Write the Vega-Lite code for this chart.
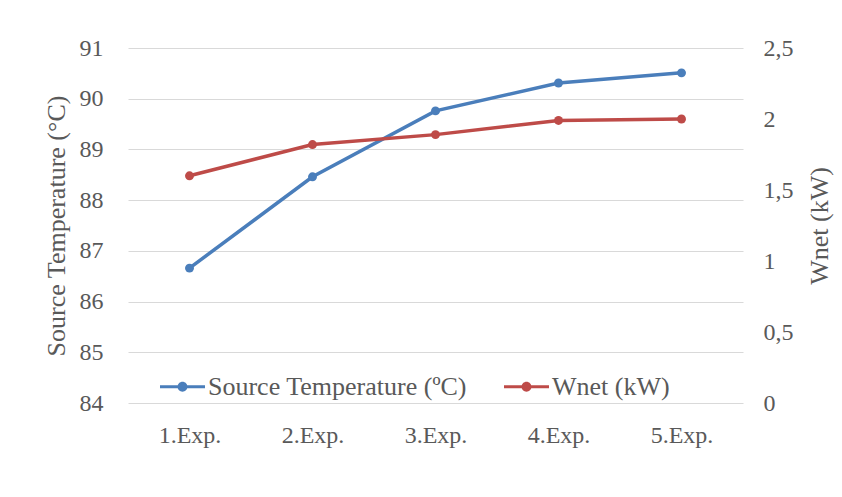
{
  "$schema": "https://vega.github.io/schema/vega-lite/v6.json",
  "autosize": {"type": "none"},
  "width": 615,
  "height": 355,
  "padding": {"left": 128, "top": 48, "right": 99, "bottom": 94},
  "background": "white",
  "config": {
    "font": "Liberation Serif, Times New Roman, DejaVu Serif, serif",
    "locale": {"number": {"decimal": ",", "thousands": ".", "grouping": [3], "currency": ["", " €"]}},
    "view": {"stroke": null},
    "axis": {
      "labelFont": "Liberation Serif, Times New Roman, DejaVu Serif, serif",
      "titleFont": "Liberation Serif, Times New Roman, DejaVu Serif, serif",
      "labelFontSize": 24,
      "titleFontSize": 26,
      "labelColor": "#595959",
      "titleColor": "#595959",
      "titleFontWeight": "normal",
      "domain": false,
      "ticks": false,
      "gridColor": "#d9d9d9",
      "gridWidth": 1
    }
  },
  "data": {
    "values": [
      {"exp": "1.Exp.", "series": "Source Temperature (ºC)", "value": 86.66},
      {"exp": "2.Exp.", "series": "Source Temperature (ºC)", "value": 88.46},
      {"exp": "3.Exp.", "series": "Source Temperature (ºC)", "value": 89.76},
      {"exp": "4.Exp.", "series": "Source Temperature (ºC)", "value": 90.31},
      {"exp": "5.Exp.", "series": "Source Temperature (ºC)", "value": 90.51},
      {"exp": "1.Exp.", "series": "Wnet (kW)", "value": 1.60},
      {"exp": "2.Exp.", "series": "Wnet (kW)", "value": 1.82},
      {"exp": "3.Exp.", "series": "Wnet (kW)", "value": 1.89},
      {"exp": "4.Exp.", "series": "Wnet (kW)", "value": 1.99},
      {"exp": "5.Exp.", "series": "Wnet (kW)", "value": 2.00}
    ]
  },
  "encoding": {
    "x": {
      "field": "exp",
      "type": "ordinal",
      "scale": {"type": "point", "padding": 0.5},
      "axis": {"title": null, "labelAngle": 0, "labelPadding": 20, "grid": false}
    },
    "color": {
      "field": "series",
      "type": "nominal",
      "scale": {"domain": ["Source Temperature (ºC)", "Wnet (kW)"], "range": ["#4A7EBB", "#BE4B48"]},
      "legend": {
        "title": null,
        "orient": "none",
        "legendX": 32,
        "legendY": 316,
        "direction": "horizontal",
        "labelFont": "Liberation Serif, Times New Roman, DejaVu Serif, serif",
        "labelFontSize": 26,
        "labelColor": "#595959",
        "symbolType": "M-1,-0.07 H1 V0.07 H-1 Z M0.22,0 A0.22,0.22 0 1,1 -0.22,0 A0.22,0.22 0 1,1 0.22,0 Z",
        "symbolSize": 2025,
        "symbolStrokeWidth": 0,
        "symbolOpacity": 1,
        "labelOffset": 3,
        "columnPadding": 37,
        "labelLimit": 400,
        "fillColor": "white"
      }
    }
  },
  "layer": [
    {
      "transform": [{"filter": "datum.series === 'Source Temperature (ºC)'"}],
      "mark": {"type": "line", "strokeWidth": 3.5, "point": {"size": 80, "filled": true, "opacity": 1}},
      "encoding": {
        "y": {
          "field": "value",
          "type": "quantitative",
          "scale": {"domain": [84, 91], "nice": false, "zero": false},
          "axis": {"title": "Source Temperature (°C)", "values": [84, 85, 86, 87, 88, 89, 90, 91], "labelPadding": 25, "titlePadding": 10, "grid": true}
        }
      }
    },
    {
      "transform": [{"filter": "datum.series === 'Wnet (kW)'"}],
      "mark": {"type": "line", "strokeWidth": 3.5, "point": {"size": 80, "filled": true, "opacity": 1}},
      "encoding": {
        "y": {
          "field": "value",
          "type": "quantitative",
          "scale": {"domain": [0, 2.5], "nice": false},
          "axis": {"title": "Wnet (kW)", "orient": "right", "values": [0, 0.5, 1, 1.5, 2, 2.5], "format": "~g", "labelPadding": 20, "titlePadding": 39, "titleAngle": 270, "grid": false}
        }
      }
    }
  ],
  "resolve": {"scale": {"y": "independent"}}
}
